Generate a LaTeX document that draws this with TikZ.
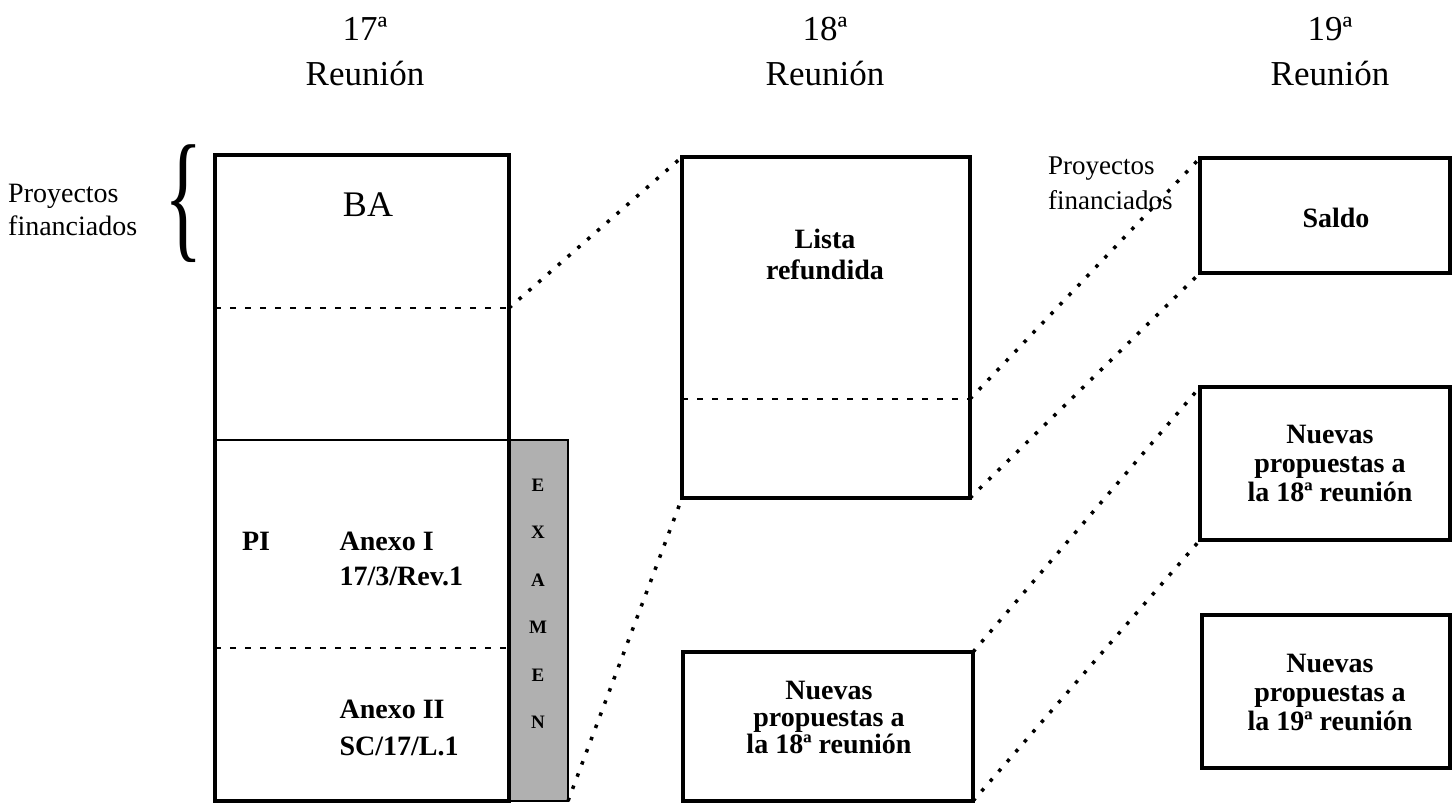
\documentclass[tikz,border=0pt]{standalone}
\usepackage{fontspec}
\usepackage{graphicx}
\setmainfont{Liberation Serif}
\begin{document}
\begin{tikzpicture}[x=1pt,y=-1pt,
  box/.style={draw, line width=4pt, outer sep=0pt, inner sep=0pt, anchor=north west},
  dotline/.style={line width=3.5pt, dash pattern=on 3.5pt off 9.5pt},
  hdots/.style={line width=2.5pt, dash pattern=on 6pt off 9pt},
  title/.style={font=\fontsize{35}{45}\selectfont, align=center},
  boldtxt/.style={font=\fontsize{28}{29}\selectfont\bfseries, align=center},
  lbl/.style={font=\fontsize{28}{33}\selectfont, align=left, anchor=west, inner sep=0pt}]
\useasboundingbox (0,0) rectangle (1452,804);
\fill[white] (0,0) rectangle (1452,804);

% titles
\node[title] (t17) at (365,52) {17ª\\Reunión};
\node[title] (t18) at (825,52) {18ª\\Reunión};
\node[title] (t19) at (1330,52) {19ª\\Reunión};

% left label and brace
\node[lbl] (pf1) at (8,210) {Proyectos\\financiados};
\node[inner sep=0pt] (brace) at (184,204) {\fontsize{80}{80}\selectfont\scalebox{1}[1.78]{\{}};

% EXAMEN column
\node[draw, line width=1.5pt, fill=gray!62, minimum width=59pt, minimum height=361pt,
  anchor=north west, outer sep=0pt, inner sep=0pt] (exam) at (509,440) {};
\node[font=\fontsize{19}{47.5}\selectfont\bfseries, align=center] (examtxt) at (538,604) {E\\X\\A\\M\\E\\N};

% left box 17
\node[box, minimum width=294pt, minimum height=646pt] (b17) at (215,155) {};
\coordinate (d1w) at (215,308);
\coordinate (d1e) at (509,308);
\coordinate (s1w) at (215,440);
\coordinate (s1e) at (509,440);
\coordinate (d2w) at (215,648);
\coordinate (d2e) at (509,648);
\draw[hdots] (d1w) -- (d1e);
\draw[line width=1.8pt] (s1w) -- (s1e);
\draw[hdots] (d2w) -- (d2e);
\node[font=\fontsize{36}{40}\selectfont] (ba) at (368,205) {BA};
\node[boldtxt] (pi) at (256,541) {PI};
\node[boldtxt, align=left, anchor=west, font=\fontsize{28}{35}\selectfont\bfseries] (ax1) at (336,559) {Anexo I\\17/3/Rev.1};
\node[boldtxt, align=left, anchor=west, font=\fontsize{28}{37}\selectfont\bfseries] (ax2) at (336,728) {Anexo II\\SC/17/L.1};

% middle boxes 18
\node[box, minimum width=288pt, minimum height=341pt] (b18) at (682,157) {};
\coordinate (d3w) at (682,399);
\coordinate (d3e) at (970,399);
\draw[hdots] (d3w) -- (d3e);
\node[boldtxt, font=\fontsize{28}{31}\selectfont\bfseries] (lista) at (825,254) {Lista\\refundida};
\node[box, minimum width=290pt, minimum height=149pt] (n18a) at (683,652) {};
\node[boldtxt, font=\fontsize{28}{27}\selectfont\bfseries] (n18atxt) at (829,717) {Nuevas\\propuestas a\\la 18ª reunión};

% right boxes 19
\node[lbl, font=\fontsize{27}{35}\selectfont] (pf2) at (1048,183) {Proyectos\\financiados};
\node[box, minimum width=250pt, minimum height=115pt] (saldo) at (1200,158) {};
\node[boldtxt] (saldotxt) at (1336,218) {Saldo};
\node[box, minimum width=250pt, minimum height=153pt] (n18b) at (1200,387) {};
\node[boldtxt] (n18btxt) at (1330,463) {Nuevas\\propuestas a\\la 18ª reunión};
\node[box, minimum width=248pt, minimum height=153pt] (n19) at (1202,615) {};
\node[boldtxt] (n19txt) at (1330,692) {Nuevas\\propuestas a\\la 19ª reunión};

% dotted connectors
\draw[dotline] (d1e) -- (b18.north west);
\draw[dotline] (exam.south east) -- (b18.south west);
\draw[dotline] (d3e) -- (saldo.north west);
\draw[dotline] (b18.south east) -- (saldo.south west);
\draw[dotline] (n18a.north east) -- (n18b.north west);
\draw[dotline] (n18a.south east) -- (n18b.south west);
\end{tikzpicture}
\end{document}
